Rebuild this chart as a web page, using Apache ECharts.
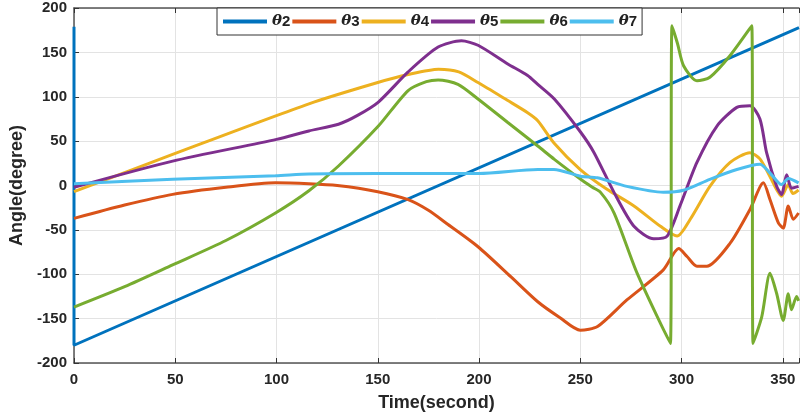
<!DOCTYPE html>
<html>
<head>
<meta charset="utf-8">
<script src="https://cdn.jsdelivr.net/npm/echarts@6/dist/echarts.min.js"></script>
<style>
  html, body { margin: 0; padding: 0; background: #fff; }
  #main { width: 802px; height: 418px; }
</style>
</head>
<body>
<div id="main"></div>
<script>
// 数据：[时间(s), 角度(deg)]
const names = ['θ2', 'θ3', 'θ4', 'θ5', 'θ6', 'θ7'];
const colors = ['#0072BD', '#D95319', '#EDB120', '#7E2F8E', '#77AC30', '#4DBEEE'];
const xTicks = [0, 50, 100, 150, 200, 250, 300, 350];
const yTicks = [-200, -150, -100, -50, 0, 50, 100, 150, 200];

const theta2 = [[0, 179], [0, -180], [358, 178]];
const theta3 = [[0, -37], [25, -22], [48.7, -10], [75, -2], [99.5, 3], [116, 2], [130, 0], [150, -7], [165, -16],
  [175, -28], [184.7, -44], [199.5, -69], [215.8, -103], [229, -131], [240, -149], [250, -163], [258.5, -159],
  [273, -129], [291, -95], [298.6, -71], [302.7, -80], [307.6, -91], [312.5, -91], [324, -65], [333.8, -27],
  [340.4, 3], [343.7, -16], [347.8, -42], [350.2, -48], [352.7, -23], [355.2, -38], [357.8, -31]];
const theta4 = [[0, -7], [48.7, 35], [116, 92], [150, 116], [165, 125], [180, 131], [190, 128], [199.5, 116],
  [214, 96], [224, 82], [229, 73], [237, 48], [250, 18], [263, -4], [276.5, -23], [289.6, -46], [297.8, -57],
  [304.3, -38], [314, -1], [324, 26], [333.8, 37], [338.7, 30], [343.7, 10], [349.4, -12], [352.7, 1],
  [355, -9], [357.8, -5]];
const theta5 = [[0, -2], [48.7, 27.5], [100, 52], [116, 61.5], [130.6, 69], [140, 79], [150.3, 94], [165, 128],
  [179.8, 156], [191.3, 163], [199.5, 158], [214.2, 137], [224, 124], [229, 114], [237.2, 97.5], [250.2, 60],
  [256.8, 37], [266.7, -8], [276.5, -46], [286.3, -60], [292.9, -57], [299.4, -22], [307.6, 26], [317.5, 67],
  [327.3, 88], [333.8, 90], [338.7, 75], [342, 37], [347, -1], [349.4, -10], [351.9, 12], [354.3, -3],
  [357.8, -1]];
const theta6 = [[0, -137], [25, -114], [48.7, -89.5], [75, -62], [99.5, -31], [116, -6], [130.6, 22], [150.3, 67],
  [165, 107], [174, 117], [179.8, 119], [189.6, 114], [199.5, 97.5], [214.2, 71], [229, 44.5], [237.2, 29.5],
  [250.2, 7], [256, -2], [260.1, -8], [266.7, -31], [278.1, -99], [294.5, -178], [295.3, 180], [298, 160],
  [301, 135], [307.6, 118], [314, 122], [324, 146.5], [334.7, 180], [335.3, -178], [339.6, -148], [343.7, -99],
  [347, -122], [350.2, -152], [352.7, -122], [354.3, -140], [356.8, -125], [357.8, -130]];
const theta7 = [[0, 2], [48.7, 7], [99.5, 11], [116, 13], [150, 13.5], [200, 13.5], [229, 18], [237, 18],
  [250, 10.5], [258.5, 8.7], [273, -1], [291, -7.6], [301, -5.3], [314, 7], [327.3, 18], [338.7, 24],
  [343.7, 14], [349.4, 1], [352.7, 8], [357.8, 3]];
const seriesData = [theta2, theta3, theta4, theta5, theta6, theta7];

const font = 'Arial, "Liberation Sans", sans-serif';
const chart = echarts.init(document.getElementById('main'));

const option = {
  backgroundColor: '#fff',
  animation: false,
  grid: { left: 74, right: 0, top: 8, bottom: 55 },
  legend: {
    data: names,
    left: 217,
    top: 8,
    padding: [6, 5, 6, 6],
    itemGap: 2,
    itemWidth: 44,
    itemHeight: 4,
    icon: 'rect',
    borderColor: '#333',
    borderWidth: 1,
    backgroundColor: '#fff',
    formatter: function (name) {
      return '{t|θ}{n|' + name.slice(1) + '}';
    },
    textStyle: {
      rich: {
        t: { fontFamily: '"DejaVu Serif", serif', fontStyle: 'italic', fontWeight: 'bold', fontSize: 15, color: '#222' },
        n: { fontFamily: font, fontWeight: 'bold', fontSize: 15, color: '#222' }
      }
    }
  },
  xAxis: [{
    type: 'value',
    min: 0,
    max: 358,
    interval: 50,
    name: 'Time(second)',
    nameLocation: 'middle',
    nameGap: 31,
    nameTextStyle: { fontFamily: font, fontWeight: 'bold', fontSize: 18, color: '#262626' },
    axisLine: { show: true, onZero: false, lineStyle: { color: '#555', width: 1.5 } },
    axisTick: { show: true, inside: true, length: 5, lineStyle: { color: '#333' } },
    axisLabel: {
      margin: 9, fontFamily: font, fontWeight: 'bold', fontSize: 15, color: '#262626',
      formatter: v => (xTicks.indexOf(v) >= 0 ? String(v) : '')
    },
    splitLine: { show: true, lineStyle: { color: '#e3e3e3', width: 1 } }
  }, {
    type: 'value',
    position: 'top',
    min: 0,
    max: 358,
    interval: 50,
    axisLine: { show: true, onZero: false, lineStyle: { color: '#555', width: 1.5 } },
    axisTick: { show: true, inside: true, length: 5, lineStyle: { color: '#333' } },
    axisLabel: { show: false },
    splitLine: { show: false }
  }],
  yAxis: {
    type: 'value',
    min: -200,
    max: 200,
    interval: 50,
    name: 'Angle(degree)',
    nameLocation: 'middle',
    nameGap: 44,
    nameTextStyle: { fontFamily: font, fontWeight: 'bold', fontSize: 18, color: '#262626' },
    axisLine: { show: true, onZero: false, lineStyle: { color: '#555', width: 1.5 } },
    axisTick: { show: true, inside: true, length: 5, lineStyle: { color: '#333' } },
    axisLabel: {
      margin: 7, fontFamily: font, fontWeight: 'bold', fontSize: 15, color: '#262626',
      formatter: v => (yTicks.indexOf(v) >= 0 ? String(v) : '')
    },
    splitLine: { show: true, lineStyle: { color: '#e3e3e3', width: 1 } }
  },
  series: names.map((n, i) => ({
    name: n,
    type: 'line',
    data: seriesData[i],
    showSymbol: false,
    smooth: i === 0 ? false : 0.25,
    lineStyle: { width: 3, color: colors[i] },
    itemStyle: { color: colors[i] }
  }))
};

chart.setOption(option);
</script>
</body>
</html>
